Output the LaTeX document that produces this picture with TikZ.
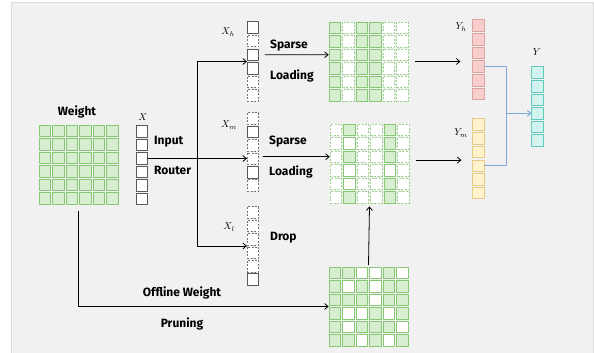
\documentclass[tikz,border=0pt]{standalone}
\usepackage{fontspec}
\setmainfont{Fira Sans}
\usetikzlibrary{arrows.meta,positioning,calc}

\definecolor{bggray}{HTML}{F1F1F1}
\definecolor{bgline}{HTML}{DCDCDC}
\definecolor{grline}{HTML}{86C774}
\definecolor{grdash}{HTML}{9CD28D}
\definecolor{grfill}{HTML}{D8EED0}
\definecolor{redline}{HTML}{DDA3A1}
\definecolor{redfill}{HTML}{F8CECC}
\definecolor{ylwline}{HTML}{E6CB86}
\definecolor{ylwfill}{HTML}{FFF2CC}
\definecolor{tealline}{HTML}{62CABD}
\definecolor{tealfill}{HTML}{D3F3EE}
\definecolor{linkblue}{HTML}{7EA6E0}

\begin{document}
\begin{tikzpicture}[x=1pt, y=-1pt, >={Straight Barb[length=3.5pt,width=6pt]}, line cap=round, line join=round,
  cell/.style={draw, minimum size=11.5pt, inner sep=0pt, line width=0.7pt},
  gf/.style={cell, draw=grline, fill=grfill},
  gn/.style={cell, draw=grline, fill=white},
  gd/.style={cell, draw=grdash, fill=white, line cap=butt, dash pattern=on 2pt off 1.5pt},
  xs/.style={cell, draw=black!65, fill=white},
  xd/.style={cell, draw=black!55, fill=white, line cap=butt, dash pattern=on 2pt off 1.5pt},
  rs/.style={cell, draw=redline, fill=redfill},
  ys/.style={cell, draw=ylwline, fill=ylwfill},
  ts/.style={cell, draw=tealline, fill=tealfill},
  lbl/.style={font=\fontsize{12}{14}\selectfont\bfseries, inner sep=1pt},
  link/.style={line width=0.8pt, ->},
  bluelink/.style={line width=0.9pt, draw=linkblue}]

\useasboundingbox (0,0) rectangle (594,353);
\fill[bggray] (11,2) rectangle (593,353);
\draw[bgline, line width=0.8pt] (11,353) -- (11,2) -- (593,2) -- (593,353);

% weight and input
\foreach \r in {1,...,6}
  \foreach \c in {1,...,6}
    \node[gf] (W-\r-\c) at ({44.75+13.5*(\c-1)}, {130.75+13.5*(\r-1)}) {};
\foreach \r in {1,...,6}
  \node[xs] (X-\r) at (142, {131.5+13.5*(\r-1)}) {};

\node[lbl] (wlbl) at (77,112) {Weight};
\node (xlbl) at (143,117) {$X$};
\node[lbl, anchor=west] (inp) at (153,142) {Input};
\node[lbl, anchor=west] (rtr) at (153,170) {Router};

% routed inputs
\foreach \t [count=\r] in {xs,xd,xs,xs,xd,xd}
  \node[\t] (Xh-\r) at (253, {27.5+13.6*(\r-1)}) {};
\foreach \t [count=\r] in {xd,xs,xd,xd,xs,xd}
  \node[\t] (Xm-\r) at (253, {118.5+13.4*(\r-1)}) {};
\foreach \t [count=\r] in {xd,xd,xd,xd,xd,xs}
  \node[\t] (Xl-\r) at (253, {212.5+13.4*(\r-1)}) {};

\node (xhlbl) at (228,32) {$X_h$};
\node (xmlbl) at (229,125) {$X_m$};
\node (xllbl) at (229,227) {$X_l$};

\node[lbl, anchor=west] (sp1) at (269,46) {Sparse};
\node[lbl, anchor=west] (ld1) at (269,76) {Loading};
\node[lbl, anchor=west] (sp2) at (268,142) {Sparse};
\node[lbl, anchor=west] (ld2) at (268,172) {Loading};
\node[lbl, anchor=west] (drp) at (269,238) {Drop};

% loaded weights
\foreach \r in {1,...,6}
  \foreach \t [count=\c] in {gf,gd,gf,gf,gd,gd}
    \node[\t] (H-\r-\c) at ({334.75+13.5*(\c-1)}, {27.75+13.5*(\r-1)}) {};
\foreach \row [count=\r] in {{gd,gf,gd,gd,gf,gd},{gd,gn,gd,gd,gf,gd},{gd,gf,gd,gd,gf,gd},{gd,gn,gd,gd,gn,gd},{gd,gn,gd,gd,gf,gd},{gd,gf,gd,gd,gf,gd}}
  \foreach \t [count=\c] in \row
    \node[\t] (M-\r-\c) at ({335.75+13.5*(\c-1)}, {129.75+13.5*(\r-1)}) {};
\foreach \row [count=\r] in {{gf,gf,gn,gn,gf,gn},{gf,gn,gf,gn,gf,gf},{gf,gf,gf,gn,gf,gf},{gf,gn,gn,gf,gn,gf},{gf,gn,gf,gf,gf,gn},{gf,gf,gn,gf,gn,gf}}
  \foreach \t [count=\c] in \row
    \node[\t] (P-\r-\c) at ({334.75+13.5*(\c-1)}, {272.75+13.5*(\r-1)}) {};

\node[lbl] (off) at (182,293) {Offline Weight};
\node[lbl] (prn) at (182,324) {Pruning};

% outputs
\foreach \r in {1,...,6}
  \node[rs] (Yh-\r) at (478.5, {25.5+13.7*(\r-1)}) {};
\foreach \r in {1,...,6}
  \node[ys] (Ym-\r) at (478.5, {124.5+13.7*(\r-1)}) {};
\foreach \r in {1,...,6}
  \node[ts] (Y-\r) at (537.5, {72.5+13.6*(\r-1)}) {};

\node (yhlbl) at (461,27) {$Y_h$};
\node (ymlbl) at (461,133) {$Y_m$};
\node (ylbl) at (537,52) {$Y$};

% routing
\coordinate (fork) at ($(X-3.east)+(49,0)$);
\coordinate (xhin) at ($(Xh-3.west)!.5!(Xh-4.west)$);
\coordinate (xlin) at ($(Xl-3.west)!.5!(Xl-4.west)$);
\draw[link] (X-3.east) -- (X-3.east -| Xm-4.west);
\draw[link] (fork) |- (xhin);
\draw[link] (fork) |- (xlin);

\coordinate (xmout) at ([xshift=4pt]Xm-4.east);
\draw[link] ([xshift=6pt]Xh-3.east) -- (H-3-1.west);
\draw[link] (xmout |- M-3-1.west) -- (M-3-1.west);

\coordinate (hout) at ($(H-3-6.east)!.5!(H-4-6.east)$);
\coordinate (mout) at ($(M-3-6.east)!.25!(M-4-6.east)$);
\path (hout -| Yh-1.west) coordinate (yhin);
\path (mout -| Ym-1.west) coordinate (ymin);
\draw[link] ([xshift=7pt]hout) -- ([xshift=-12pt]yhin);
\draw[link] ([xshift=7pt]mout) -- ([xshift=-11pt]ymin);

\coordinate (ptop) at ($(P-1-3.north)!.5!(P-1-4.north)$);
\coordinate (mbot) at ($(M-6-3.south)!.5!(M-6-4.south)$);
\draw[link] ([yshift=2pt]ptop) -- ([yshift=-3pt]mbot);

\coordinate (wbot) at ($(W-6-3.south)!.5!(W-6-4.south)$);
\coordinate (pin) at ($(P-3-1.west)!.5!(P-4-1.west)$);
\draw[link] ([yshift=-7pt]wbot) |- (pin);

\coordinate (ymerge) at ($(Y-4.west)+(-25,0)$);
\draw[bluelink] (Yh-4.east) -| (ymerge) |- (Ym-4.east);
\draw[bluelink, ->] (ymerge) -- (Y-4.west);

\end{tikzpicture}
\end{document}
